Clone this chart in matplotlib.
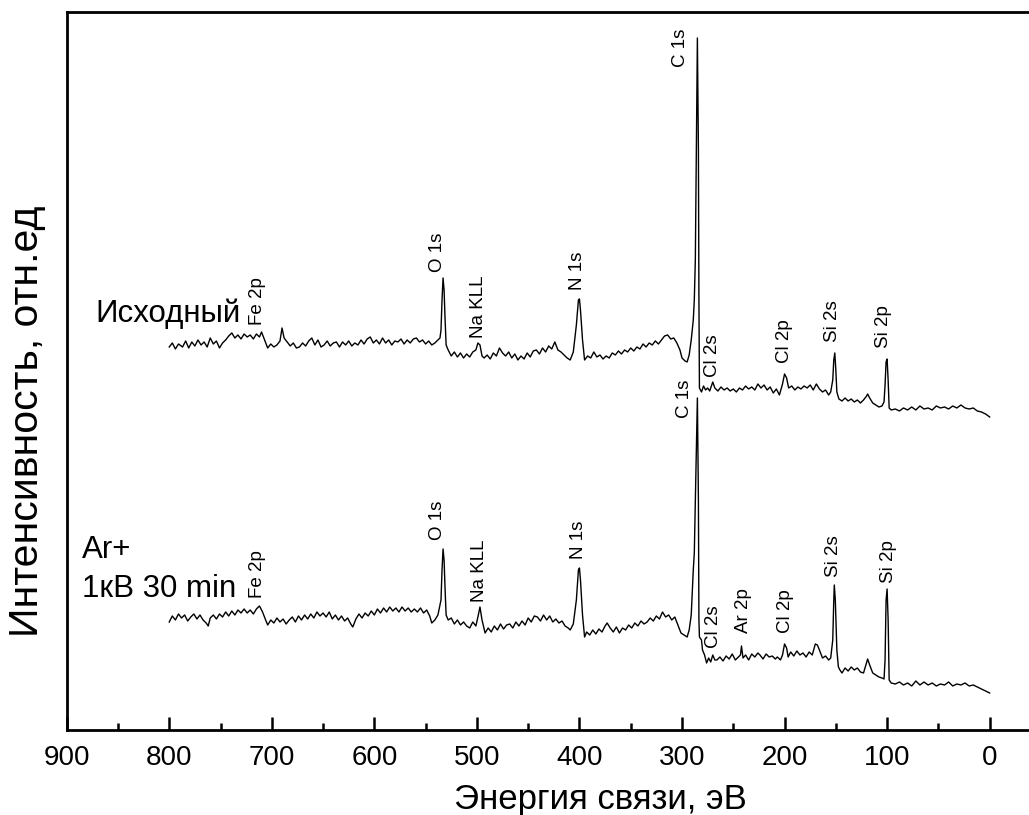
import numpy as np
import matplotlib
matplotlib.use('Agg')
from matplotlib import pyplot as plt
from matplotlib.ticker import MultipleLocator

plt.rcParams['font.family'] = ['Liberation Sans', 'DejaVu Sans']

# spectrum of the initial sample: (binding energy eV, intensity a.u.)
upper = [
    (800, 383), (797, 387), (794, 381), (791, 386), (787, 383), (784, 389), (781, 382), (778, 388),
    (775, 384), (772, 390), (769, 385), (766, 388), (763, 383), (760, 392), (757, 386), (754, 389),
    (751, 382), (748, 387), (745, 390), (742, 394), (739, 397), (736, 392), (733, 395), (730, 391),
    (727, 396), (724, 393), (721, 395), (718, 391), (715, 396), (712, 393), (710, 398), (707, 390),
    (704, 382), (701, 386), (698, 383), (695, 385), (692, 389), (690, 402), (688, 392), (685, 388),
    (682, 384), (679, 387), (676, 382), (673, 383), (670, 387), (667, 384), (664, 389), (661, 392),
    (658, 385), (655, 390), (652, 383), (649, 385), (646, 389), (643, 384), (640, 387), (637, 388),
    (634, 383), (631, 388), (628, 385), (625, 389), (622, 384), (619, 387), (616, 385), (613, 390),
    (610, 386), (607, 391), (604, 393), (601, 387), (598, 390), (595, 386), (592, 392), (589, 387),
    (586, 390), (583, 385), (580, 389), (577, 388), (574, 391), (571, 386), (568, 390), (565, 387),
    (562, 391), (559, 392), (556, 388), (553, 390), (550, 386), (547, 389), (544, 385), (541, 387),
    (538, 390), (536, 392), (535, 400), (534, 430), (533, 452), (532, 440), (531, 410), (530, 385),
    (528, 380), (525, 374), (522, 378), (519, 373), (516, 377), (513, 372), (510, 376), (507, 373),
    (504, 378), (501, 380), (499, 387), (497, 385), (495, 374), (493, 372), (490, 375), (487, 371),
    (484, 377), (481, 374), (478, 382), (475, 377), (472, 374), (469, 378), (466, 372), (463, 376),
    (460, 370), (457, 374), (454, 371), (451, 377), (448, 373), (445, 379), (442, 380), (439, 376),
    (436, 382), (433, 378), (430, 384), (427, 381), (424, 388), (421, 380), (418, 378), (415, 375),
    (412, 372), (409, 370), (406, 378), (403, 405), (401, 430), (400, 431), (399, 420), (397, 390),
    (395, 370), (392, 374), (389, 372), (386, 378), (383, 373), (380, 375), (377, 371), (374, 374),
    (371, 372), (368, 377), (365, 375), (362, 379), (359, 376), (356, 380), (353, 378), (350, 382),
    (347, 379), (344, 383), (341, 381), (338, 386), (335, 383), (332, 387), (329, 385), (326, 389),
    (323, 386), (320, 390), (317, 394), (314, 395), (311, 391), (308, 392), (305, 387), (302, 380),
    (300, 372), (297, 369), (295, 368), (293, 375), (291, 390), (289, 410), (288, 430), (287, 470),
    (286, 580), (285, 692), (284, 580), (283.5, 430), (283, 342), (281, 338), (279, 344), (277, 340),
    (275, 342), (273, 339), (271, 345), (270, 348), (268, 342), (265, 339), (262, 343), (259, 340),
    (256, 342), (253, 339), (250, 341), (247, 338), (244, 342), (241, 340), (238, 344), (235, 341),
    (232, 343), (229, 340), (226, 346), (223, 342), (220, 345), (217, 340), (214, 343), (211, 337),
    (208, 341), (205, 335), (202, 346), (200, 356), (198, 352), (196, 342), (193, 344), (190, 340),
    (187, 343), (184, 341), (181, 344), (178, 342), (175, 345), (172, 340), (169, 346), (166, 341),
    (163, 338), (160, 340), (157, 335), (155, 338), (153, 350), (152, 370), (151, 377), (150, 360),
    (149, 338), (147, 331), (144, 329), (141, 332), (138, 329), (135, 331), (132, 328), (129, 330),
    (126, 327), (123, 330), (120, 334), (119, 336), (117, 332), (114, 327), (111, 325), (108, 323),
    (105, 324), (103, 328), (102, 345), (101, 368), (100, 371), (99, 350), (98, 322), (96, 320),
    (92, 321), (88, 319), (84, 322), (80, 320), (76, 323), (72, 320), (68, 324), (64, 321),
    (60, 322), (56, 320), (52, 324), (48, 322), (44, 323), (40, 321), (36, 324), (32, 322),
    (28, 325), (24, 322), (20, 321), (16, 322), (12, 319), (8, 318), (4, 316), (0, 313),
]

# spectrum after Ar+ 1 kV 30 min
lower = [
    (800, 108), (797, 114), (794, 110), (791, 116), (788, 112), (785, 115), (782, 109), (779, 113),
    (776, 116), (773, 111), (770, 115), (767, 110), (764, 107), (762, 104), (760, 112), (757, 115),
    (754, 111), (751, 116), (748, 113), (745, 118), (742, 114), (739, 119), (736, 115), (733, 120),
    (730, 117), (727, 121), (724, 117), (721, 120), (718, 116), (715, 121), (712, 124), (709, 118),
    (706, 110), (704, 105), (701, 110), (698, 107), (695, 112), (692, 108), (689, 111), (686, 106),
    (683, 110), (680, 113), (677, 108), (674, 114), (671, 110), (668, 115), (665, 111), (662, 116),
    (659, 112), (656, 118), (653, 114), (650, 117), (647, 113), (644, 118), (641, 111), (638, 115),
    (635, 110), (632, 114), (629, 109), (626, 112), (623, 106), (621, 103), (618, 111), (615, 116),
    (612, 112), (609, 117), (606, 114), (603, 119), (600, 115), (597, 121), (594, 117), (591, 122),
    (588, 118), (585, 123), (582, 119), (579, 122), (576, 118), (573, 123), (570, 119), (567, 122),
    (564, 118), (561, 121), (558, 118), (555, 122), (552, 117), (549, 120), (546, 114), (544, 107),
    (541, 110), (538, 115), (535, 130), (534, 160), (533, 181), (532, 170), (531, 140), (530, 115),
    (528, 110), (525, 112), (522, 106), (519, 110), (516, 105), (513, 108), (510, 104), (507, 102),
    (504, 108), (501, 104), (499, 113), (497, 123), (495, 110), (492, 97), (489, 102), (486, 98),
    (483, 104), (480, 100), (477, 106), (474, 101), (471, 105), (468, 106), (465, 102), (462, 108),
    (459, 104), (456, 109), (453, 105), (450, 112), (447, 108), (444, 114), (441, 113), (438, 109),
    (435, 115), (432, 110), (429, 114), (426, 108), (423, 111), (420, 107), (417, 109), (414, 104),
    (411, 102), (409, 100), (406, 106), (403, 130), (401, 160), (400, 162), (399, 150), (397, 115),
    (395, 93), (393, 98), (390, 95), (387, 100), (384, 96), (381, 101), (378, 98), (375, 104),
    (373, 107), (370, 102), (367, 98), (364, 103), (361, 97), (358, 102), (355, 100), (352, 105),
    (349, 102), (346, 107), (343, 104), (340, 109), (337, 106), (334, 108), (331, 112), (328, 109),
    (325, 114), (322, 111), (319, 118), (316, 113), (313, 115), (310, 110), (307, 113), (304, 105),
    (301, 97), (298, 95), (295, 93), (293, 100), (291, 115), (290, 137), (289, 160), (288, 177),
    (287, 230), (286, 280), (285, 332), (284, 230), (283.5, 110), (283, 93), (281, 90), (280, 80),
    (278, 75), (276, 67), (274, 72), (272, 68), (270, 75), (268, 70), (266, 70), (263, 73),
    (260, 69), (257, 74), (254, 71), (251, 76), (248, 70), (245, 73), (243, 75), (242, 84),
    (240.5, 72), (238, 75), (235, 70), (232, 76), (229, 73), (226, 77), (224, 75), (221, 71),
    (218, 76), (215, 73), (212, 74), (209, 71), (207, 73), (204, 70), (202, 75), (200, 86),
    (198, 82), (196.5, 73), (194, 78), (191, 74), (188, 79), (185, 75), (182, 77), (179, 73),
    (176, 78), (173, 75), (170, 86), (168, 85), (166, 80), (163, 72), (160, 74), (157, 70),
    (155, 72), (153, 90), (152, 130), (151.5, 145), (150.5, 130), (149, 80), (147.5, 63), (146, 60),
    (144, 57), (141, 62), (138, 59), (135, 63), (132, 60), (129, 62), (126, 58), (123, 57),
    (121, 64), (119, 71), (117, 65), (114, 57), (111, 55), (108, 53), (105, 52), (103, 51),
    (102, 70), (101, 130), (100, 141), (99, 110), (98, 50), (96, 47), (92, 46), (88, 48),
    (84, 45), (80, 47), (76, 44), (72, 49), (68, 45), (64, 48), (60, 45), (56, 47),
    (52, 44), (48, 46), (44, 45), (40, 48), (36, 44), (32, 46), (28, 45), (24, 47),
    (20, 44), (16, 45), (12, 43), (8, 41), (4, 39), (0, 37),
]

upper_peaks = [('Fe 2p', 714, 405), ('O 1s', 538, 458), ('Na KLL', 498, 392), ('N 1s', 402, 440),
               ('C 1s', 301, 663), ('Cl 2s', 270, 353), ('Cl 2p', 200, 367), ('Si 2s', 153, 388),
               ('Si 2p', 104, 382)]
lower_peaks = [('Fe 2p', 714, 132), ('O 1s', 538, 190), ('Na KLL', 497, 128), ('N 1s', 401, 171),
               ('C 1s', 298, 312), ('Cl 2s', 269, 82), ('Ar 2p', 240, 97), ('Cl 2p', 199, 97),
               ('Si 2s', 152, 153), ('Si 2p', 99, 147)]

fig = plt.figure(figsize=(10.29, 8.15), dpi=100)
ax = fig.add_axes([0.0648, 0.1043, 0.9468, 0.881])

ue, ui = zip(*upper)
le, li = zip(*lower)
ax.plot(ue, ui, color='black', lw=1.0)
ax.plot(le, li, color='black', lw=1.0)

for name, e, i in upper_peaks + lower_peaks:
    ax.text(e, i, name, rotation=90, ha='center', va='bottom', fontsize=13.5)

ax.text(872, 408, 'Исходный', fontsize=22.5, ha='left', va='baseline')
ax.text(885, 172, 'Ar+', fontsize=22.5, ha='left', va='baseline')
ax.text(885, 133, '1кВ 30 min', fontsize=22.5, ha='left', va='baseline')

ax.set_xlim(900, -50)
ax.set_ylim(0, 718)
ax.set_yticks([])
ax.xaxis.set_major_locator(MultipleLocator(100))
ax.xaxis.set_minor_locator(MultipleLocator(50))
ax.tick_params(axis='x', which='major', direction='in', length=9.5, width=1.8, labelsize=20, pad=11)
ax.tick_params(axis='x', which='minor', direction='in', length=5, width=1.8)
for s in ax.spines.values():
    s.set_linewidth(2.0)

ax.set_xlabel('Энергия связи, эВ', fontsize=25)
ax.xaxis.set_label_coords(0.548, -0.074)
ax.set_ylabel('Интенсивность, отн.ед', fontsize=29.5)
ax.yaxis.set_label_coords(-0.021, 0.43)

fig.savefig('out.png', dpi=100)
